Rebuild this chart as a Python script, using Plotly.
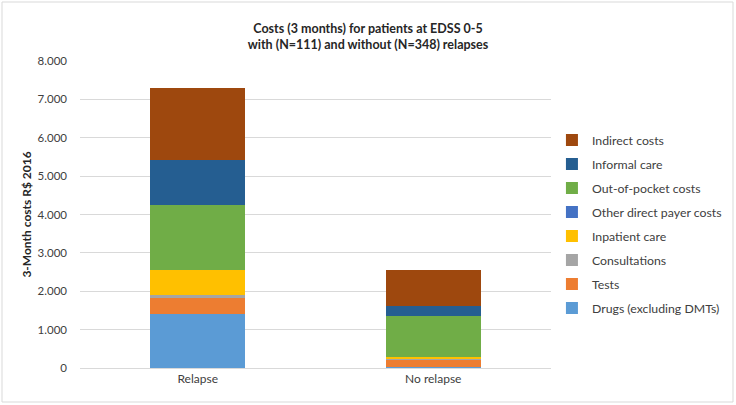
import plotly.graph_objects as go

categories = ["Relapse", "No relapse"]
series_names = ["Drugs (excluding DMTs)", "Tests", "Consultations", "Inpatient care",
                "Other direct payer costs", "Out-of-pocket costs", "Informal care", "Indirect costs"]
drugs = [1420, 20]
tests = [410, 190]
consultations = [60, 15]
inpatient = [660, 55]
other_direct = [0, 0]
out_of_pocket = [1710, 1085]
informal = [1170, 260]
indirect = [1860, 925]
colors = ["#5B9BD5", "#ED7D31", "#A5A5A5", "#FFC000", "#4472C4", "#70AD47", "#255E91", "#9E480E"]
values = [drugs, tests, consultations, inpatient, other_direct, out_of_pocket, informal, indirect]
tick_vals = [0, 1000, 2000, 3000, 4000, 5000, 6000, 7000, 8000]

font = "Lato, 'Open Sans', sans-serif"
fig = go.Figure()
for i, (name, vals, col) in enumerate(zip(series_names, values, colors)):
    fig.add_trace(go.Bar(x=categories, y=vals, name=name, legendgroup=f"g{i}",
                         legendrank=100 - i,
                         marker=dict(color=col, line=dict(width=0))))

W, H = 736, 405
ml, mr, mt, mb = 80, 185, 61, 37
fig.update_layout(
    width=W, height=H, barmode="stack", bargap=0.595,
    separators=",.",
    paper_bgcolor="white", plot_bgcolor="white",
    margin=dict(l=ml, r=mr, t=mt, b=mb, autoexpand=False),
    font=dict(family=font, size=12, color="#404040"),
    title=dict(text="<b>Costs (3 months) for patients at EDSS 0-5<br>with (N=111) and without (N=348) relapses</b>",
               x=0.5, xanchor="center", y=1 - 33 / H, yanchor="middle",
               font=dict(family=font, size=12.5, color="#262626")),
    yaxis=dict(range=[0, 8000], tickvals=tick_vals, tickformat=",d", showgrid=True,
               gridcolor="#D9D9D9", gridwidth=1, zeroline=False, showline=False,
               ticks="", ticklabelstandoff=12,
               tickfont=dict(family=font, size=11.5, color="#404040"),
               title=dict(text="<b>3-Month costs R$ 2016</b>", standoff=3,
                          font=dict(family=font, size=12, color="#262626"))),
    xaxis=dict(showline=True, linecolor="#D9D9D9", linewidth=1, ticks="",
               tickfont=dict(family=font, size=12, color="#404040")),
    legend=dict(traceorder="grouped", x=1.002, xanchor="left", y=0.79, yanchor="top",
                font=dict(family=font, size=12.3, color="#404040"),
                itemwidth=30, tracegroupgap=5, bgcolor="rgba(0,0,0,0)"),
    showlegend=True,
)
pw = W - ml - mr
ph = H - mt - mb
fig.add_shape(type="rect", xref="paper", yref="paper",
              x0=(2 - ml) / pw, x1=(W - 3 - ml) / pw,
              y0=-(mb - 3) / ph, y1=(H - mb - 2) / ph,
              line=dict(color="#D9D9D9", width=1), fillcolor="rgba(0,0,0,0)", layer="below")
fig.write_html("out.html", config={"displayModeBar": False})
with open("out.html", "r", encoding="utf-8") as f:
    html = f.read()
html = html.replace("<head>", "<head><style>html,body{margin:0;padding:0;overflow:hidden;}</style>", 1)
with open("out.html", "w", encoding="utf-8") as f:
    f.write(html)
